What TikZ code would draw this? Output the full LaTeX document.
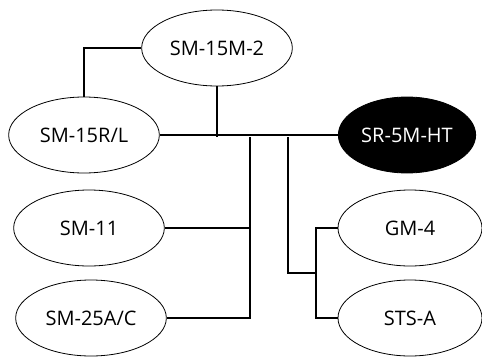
\documentclass[tikz,border=0pt]{standalone}
\usepackage{fontspec}
\setmainfont{Open Sans}
\usetikzlibrary{shapes.geometric}

\begin{document}
\begin{tikzpicture}[
  x=0.75pt,y=-0.75pt,
  every node/.style={font=\fontsize{15}{17}\selectfont},
  oval/.style={draw,ellipse,line width=0.6pt,fill=white,
               minimum width=113pt,minimum height=57pt,inner sep=0pt},
  link/.style={line width=1.9pt}
]
\useasboundingbox (0,0) rectangle (482,357);

\node[oval] (SMtop)  at (217, 48) {SM-15M-2};
\node[oval] (SMrl)   at ( 84,135) {SM-15R/L};
\node[oval,fill=black,text=white,minimum width=103pt] (SRht) at (407,135) {SR-5M-HT};
\node[oval] (SMone)  at ( 89,228) {SM-11};
\node[oval] (SMac)   at ( 91,318) {SM-25A/C};
\node[oval,minimum width=108pt] (GMfour) at (410,228) {GM-4};
\node[oval,minimum width=108pt] (STSa)   at (410,318) {STS-A};

\coordinate (J1) at (217,137);
\coordinate (J2) at (250,137);
\coordinate (J3) at (288,137);
\coordinate (J4) at (316,273);

\draw[link] (SMtop.west) -| (SMrl.north);
\draw[link] (SMtop.south) -- (J1);
\draw[link] (SMrl.east) -- (SMrl.east -| SRht.west);
\draw[link] (J2) |- (SMac.east);
\draw[link] (SMone.east) -- (SMone.east -| J2);
\draw[link] (J3) |- (J4);
\draw[link] (GMfour.west) -| (J4) |- (STSa.west);
\end{tikzpicture}
\end{document}
